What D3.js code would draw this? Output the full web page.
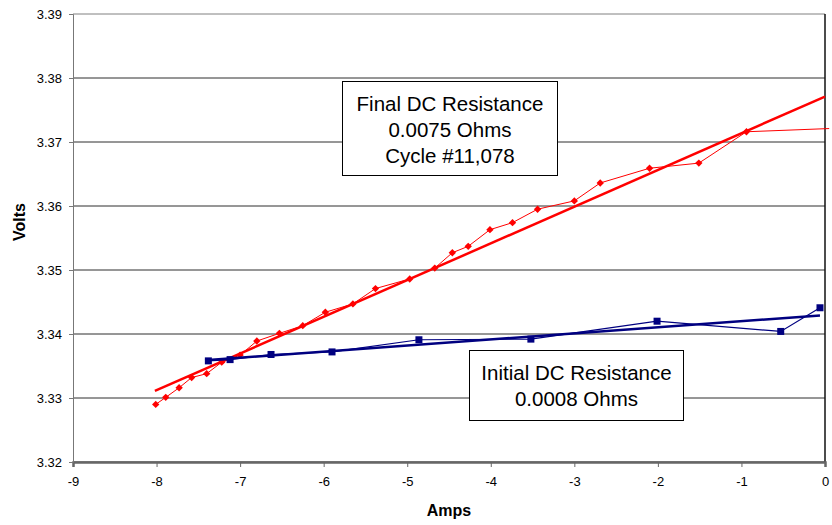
<!DOCTYPE html>
<html>
<head>
<meta charset="utf-8">
<script src="https://cdn.jsdelivr.net/npm/d3@7"></script>
<style>
  body { margin: 0; background: #fff; }
  text { font-family: Arial, "Liberation Sans", sans-serif; }
</style>
</head>
<body>
<script>
const width = 832
const height = 525
const margins = { top: 14, right: 7, bottom: 63, left: 73 }

// final cycle readings (amps, volts)
const finalAmps = [-8.01, -7.89, -7.73, -7.58, -7.40, -7.22, -7.00, -6.80, -6.53, -6.25,
  -5.98, -5.65, -5.38, -4.97, -4.67, -4.46, -4.27, -4.01, -3.74, -3.44,
  -3.00, -2.69, -2.10, -1.51, -0.94, 0.05]
const finalVolts = [3.3290, 3.3301, 3.3316, 3.3332, 3.3338, 3.3356, 3.3367, 3.3389, 3.3401, 3.3413,
  3.3434, 3.3447, 3.3471, 3.3486, 3.3503, 3.3527, 3.3537, 3.3563, 3.3574, 3.3595,
  3.3608, 3.3636, 3.3659, 3.3667, 3.3716, 3.3721]
// initial cycle readings
const initialAmps = [-7.38, -7.12, -6.63, -5.90, -4.86, -3.52, -2.01, -0.53, -0.06]
const initialVolts = [3.3358, 3.3360, 3.3368, 3.3372, 3.3391, 3.3392, 3.3420, 3.3404, 3.3441]
// trend lines (end points)
const finalTrendAmps = [-8.02, 0]
const finalTrendVolts = [3.3311, 3.3771]
const initialTrendAmps = [-7.42, -0.06]
const initialTrendVolts = [3.3359, 3.3429]

const xTicks = [-9, -8, -7, -6, -5, -4, -3, -2, -1, 0]
const yTicks = [3.32, 3.33, 3.34, 3.35, 3.36, 3.37, 3.38, 3.39]

const finalNote = ['Final DC Resistance', '0.0075 Ohms', 'Cycle #11,078']
const initialNote = ['Initial DC Resistance', '0.0008 Ohms']

const zip = (xs, ys) => xs.map((x, i) => ({ x: x, y: ys[i] }))
const finalData = zip(finalAmps, finalVolts)
const initialData = zip(initialAmps, initialVolts)

const svg = d3.select('body').append('svg')
  .attr('width', width)
  .attr('height', height)

const xScale = d3.scaleLinear()
  .domain([-9, 0])
  .range([margins.left, width - margins.right])
const yScale = d3.scaleLinear()
  .domain([3.32, 3.39])
  .range([height - margins.bottom, margins.top])

// grid
svg.append('g')
  .selectAll('line')
  .data(yTicks)
  .enter()
  .append('line')
  .attr('x1', xScale(-9))
  .attr('x2', xScale(0))
  .attr('y1', d => yScale(d))
  .attr('y2', d => yScale(d))
  .attr('stroke', d => d === 3.39 ? '#808080' : '#2e2e2e')
  .attr('stroke-width', 1)

// right border
svg.append('line')
  .attr('x1', xScale(0)).attr('x2', xScale(0))
  .attr('y1', yScale(3.39)).attr('y2', yScale(3.32))
  .attr('stroke', '#111')
  .attr('stroke-width', 1.5)

const xAxis = svg.append('g')
  .attr('transform', `translate(0,${yScale(3.32)})`)
  .call(d3.axisBottom(xScale).tickValues(xTicks).tickFormat(d => String(d)).tickSize(5).tickPadding(10))
xAxis.select('.domain').attr('stroke', '#666').attr('stroke-width', 2.5)
xAxis.selectAll('.tick line').attr('stroke', '#666')
xAxis.selectAll('text').attr('font-size', 13).attr('fill', '#000')
  .attr('font-family', 'Arial, "Liberation Sans", sans-serif')

const yAxis = svg.append('g')
  .attr('transform', `translate(${xScale(-9)},0)`)
  .call(d3.axisLeft(yScale).tickValues(yTicks).tickFormat(d3.format('.2f')).tickSize(4).tickPadding(7))
yAxis.select('.domain').attr('stroke', '#777').attr('stroke-width', 1)
yAxis.selectAll('.tick line').attr('stroke', '#777')
yAxis.selectAll('text').attr('font-size', 13).attr('fill', '#000')
  .attr('font-family', 'Arial, "Liberation Sans", sans-serif')

svg.append('text')
  .attr('x', (xScale(-9) + xScale(0)) / 2)
  .attr('y', 516)
  .attr('text-anchor', 'middle')
  .attr('font-size', 16)
  .attr('font-weight', 'bold')
  .text('Amps')

svg.append('text')
  .attr('transform', `translate(25,222) rotate(-90)`)
  .attr('text-anchor', 'middle')
  .attr('font-size', 16)
  .attr('font-weight', 'bold')
  .text('Volts')

const line = d3.line()
  .x(d => xScale(d.x))
  .y(d => yScale(d.y))

// final cycle
svg.append('path')
  .datum(finalData)
  .attr('d', line)
  .attr('fill', 'none')
  .attr('stroke', '#ff0000')
  .attr('stroke-width', 1)
svg.append('path')
  .datum(zip(finalTrendAmps, finalTrendVolts))
  .attr('d', line)
  .attr('fill', 'none')
  .attr('stroke', '#ff0000')
  .attr('stroke-width', 2.5)
svg.append('g')
  .selectAll('rect')
  .data(finalData.filter(d => d.x <= 0))
  .enter()
  .append('rect')
  .attr('x', -2.6)
  .attr('y', -2.6)
  .attr('width', 5.2)
  .attr('height', 5.2)
  .attr('transform', d => `translate(${xScale(d.x)},${yScale(d.y)}) rotate(45)`)
  .attr('fill', '#ff0000')

// initial cycle
svg.append('path')
  .datum(initialData)
  .attr('d', line)
  .attr('fill', 'none')
  .attr('stroke', '#000080')
  .attr('stroke-width', 1.2)
svg.append('path')
  .datum(zip(initialTrendAmps, initialTrendVolts))
  .attr('d', line)
  .attr('fill', 'none')
  .attr('stroke', '#000080')
  .attr('stroke-width', 2.5)
svg.append('g')
  .selectAll('rect')
  .data(initialData)
  .enter()
  .append('rect')
  .attr('x', d => xScale(d.x) - 3.5)
  .attr('y', d => yScale(d.y) - 3.5)
  .attr('width', 7)
  .attr('height', 7)
  .attr('fill', '#000080')

function note(lines, left, top, w, h, firstBase) {
  const g = svg.append('g')
  g.append('rect')
    .attr('x', left).attr('y', top)
    .attr('width', w).attr('height', h)
    .attr('fill', '#fff')
    .attr('stroke', '#000')
    .attr('stroke-width', 1)
  g.selectAll('text')
    .data(lines)
    .enter()
    .append('text')
    .attr('x', left + w / 2)
    .attr('y', (d, i) => firstBase + i * 26)
    .attr('text-anchor', 'middle')
    .attr('font-size', 20.5)
    .text(d => d)
}

note(finalNote, 342.5, 81.5, 215, 94, 111)
note(initialNote, 469.5, 350.5, 214, 70, 380)
</script>
</body>
</html>
